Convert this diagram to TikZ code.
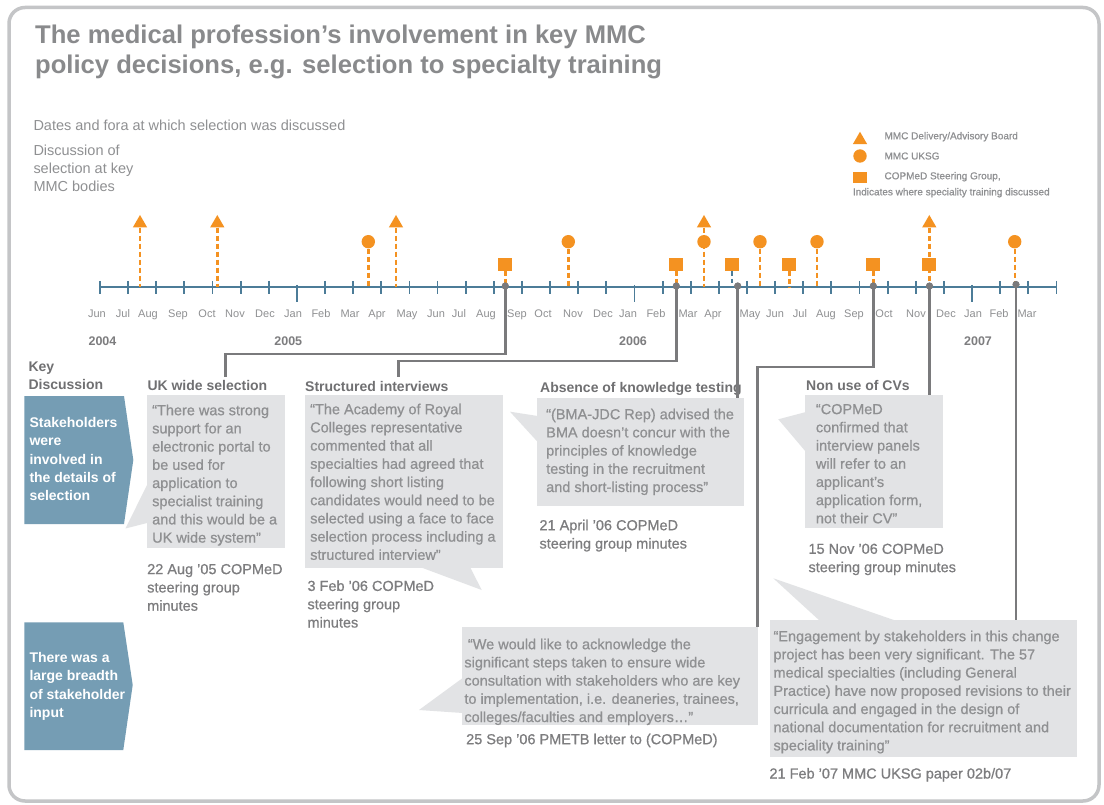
\documentclass[tikz,border=0pt]{standalone}
\usepackage{fontspec}
\setmainfont{Liberation Sans}
\newfontfamily\medfont[UprightFeatures={FakeBold=0.7}]{Liberation Sans}
\usetikzlibrary{positioning,shapes.geometric}

\definecolor{mmcorange}{RGB}{244,146,33}
\definecolor{axisblue}{RGB}{76,124,152}
\definecolor{bannerblue}{RGB}{117,157,180}
\definecolor{quotefill}{RGB}{226,227,229}
\definecolor{quotetext}{RGB}{143,144,146}
\definecolor{headgray}{RGB}{112,112,114}
\definecolor{capgray}{RGB}{125,125,127}
\definecolor{titlegray}{RGB}{137,138,140}
\definecolor{linkgray}{RGB}{122,122,124}
\definecolor{framegray}{RGB}{196,197,199}

\begin{document}
\begin{tikzpicture}[x=1pt,y=-1pt,
		stem/.style={mmcorange,line width=2.4pt,dash pattern=on 5pt off 3pt},
		board/.style={regular polygon,regular polygon sides=3,fill=mmcorange,inner sep=0pt,minimum size=16.5pt},
		uksg/.style={circle,fill=mmcorange,inner sep=0pt,minimum size=13.4pt},
		copmed/.style={rectangle,fill=mmcorange,inner sep=0pt,minimum width=14.3pt,minimum height=12.4pt},
		hub/.style={circle,fill=linkgray,inner sep=0pt,minimum size=7pt},
		link/.style={linkgray,line width=2.6pt},
		month/.style={text=quotetext,font=\fontsize{11}{13}\selectfont,inner sep=0pt,anchor=base},
		year/.style={text=capgray,font=\fontsize{12.5}{14}\selectfont\bfseries,inner sep=0pt,anchor=base},
		qbox/.style={fill=quotefill,inner sep=0pt,anchor=north west},
		qtext/.style={text=quotetext,font=\medfont\fontsize{14.5}{18.2}\selectfont,align=left,inner sep=0pt,anchor=north west},
		head/.style={text=headgray,font=\fontsize{14}{18}\selectfont\bfseries,align=left,inner sep=0pt,anchor=base west},
		source/.style={text=capgray,font=\medfont\fontsize{14.5}{18.3}\selectfont,align=left,inner sep=0pt,anchor=north west},
		banner/.style={text=white,font=\fontsize{14}{18.4}\selectfont\bfseries,align=left,inner sep=0pt,anchor=north west},
		legend/.style={text=quotetext,font=\medfont\fontsize{10}{12}\selectfont,inner sep=0pt,anchor=west}]

\useasboundingbox[fill=white] (0,0) rectangle (1104,805);
\draw[framegray,line width=3.5pt,rounded corners=16pt] (9,7.5) rectangle (1099,801);

% title and side notes
\node[text=titlegray,font=\fontsize{25.6}{30.2}\selectfont\bfseries,align=left,inner sep=0pt,anchor=north west] (title) at (35,24.6)
	{The medical profession’s involvement in key MMC\\policy decisions, e.g. selection to specialty training};
\node[source,text=quotetext,font=\fontsize{14.5}{18.3}\selectfont,anchor=base west] (dates) at (33.3,130.5) {Dates and fora at which selection was discussed};
\node[source,text=quotetext,font=\fontsize{14.5}{18.3}\selectfont] (bodies) at (33.3,144.5) {Discussion of\\selection at key\\MMC bodies};

% legend
\node[board] (lgB) at (860,140) {};
\node[uksg] (lgU) at (860,156) {};
\node[copmed,minimum width=14pt,minimum height=11.6pt] (lgC) at (860,177.5) {};
\node[legend] (lgBt) at (884.3,136.7) {MMC Delivery/Advisory Board};
\node[legend] (lgUt) at (884.3,156) {MMC UKSG};
\node[legend] (lgCt) at (884.3,176.7) {COPMeD Steering Group,};
\node[legend] (lgNote) at (852.7,192.7) {Indicates where speciality training discussed};

% time axis
\coordinate (axisL) at (100,287.3);
\coordinate (axisR) at (1056.5,287.3);
\draw[axisblue,line width=2pt] (axisL) -- (axisR);
\foreach \i in {0,...,34}{
	\pgfmathtruncatemacro\jan{mod(\i+5,12)}
	\ifnum\jan=0
		\draw[axisblue,line width=1.8pt] (100+\i*28.13,285) -- ++(0,17);
	\else
		\draw[axisblue,line width=1.8pt] (100+\i*28.13,281) -- ++(0,13);
	\fi
}
\foreach \m/\x [count=\k] in {Jun/97,Jul/123,Aug/148,Sep/178,Oct/207,Nov/235,Dec/265,Jan/293,Feb/321,Mar/350,Apr/377,May/407,
		Jun/436,Jul/459,Aug/486,Sep/517,Oct/543,Nov/573,Dec/603,Jan/628,Feb/656,Mar/688,Apr/713,May/750,
		Jun/775,Jul/800,Aug/826,Sep/854,Oct/884,Nov/916,Dec/946,Jan/973,Feb/999,Mar/1027}
	\node[month] (mon\k) at (\x,318) {\m};
\node[year] (y2004) at (102.5,345) {2004};
\node[year] (y2005) at (288.3,345) {2005};
\node[year] (y2006) at (633,345) {2006};
\node[year] (y2007) at (978,345) {2007};

% markers
\node[board] (b1) at (140,223.25) {};
\node[board] (b2) at (217.3,223.25) {};
\node[board] (b3) at (396,223.25) {};
\node[board] (b4) at (704,223.25) {};
\node[board] (b5) at (929.3,223.25) {};
\foreach \n in {b1,b2,b3,b4,b5}
	\draw[stem] (\n.south) -- (\n.south |- axisL);
\node[uksg] (u1) at (368.3,241.7) {};
\node[uksg] (u2) at (568.3,241.7) {};
\node[uksg] (u3) at (704,241.7) {};
\node[uksg] (u4) at (760,241.7) {};
\node[uksg] (u5) at (817,241.7) {};
\node[uksg] (u6) at (1014.7,241.7) {};
\foreach \n in {u1,u2,u4,u5,u6}
	\draw[stem] (\n.south) -- (\n.south |- axisL);
\node[copmed] (c1) at (505.3,264.5) {};
\node[copmed] (c2) at (676.3,264.5) {};
\node[copmed] (c3) at (732.3,264.5) {};
\node[copmed] (c4) at (789.3,264.5) {};
\node[copmed] (c5) at (873.3,264.5) {};
\node[copmed] (c6) at (929.3,264.5) {};
\foreach \n in {c1,c2,c4,c5}
	\draw[stem] (\n.south) -- (\n.south |- axisL);
\draw[axisblue,line width=2pt,dash pattern=on 5pt off 3pt] (c3.south) -- ++(0,12);

% key discussion column
\node[head,anchor=north west] (keyhead) at (28.3,361.5) {Key\\Discussion};
\fill[bannerblue] (24.3,396) -- (124,396) -- (133.3,460) -- (124,524) -- (24.3,524) -- cycle;
\node[banner] (ban1) at (29.3,417) {Stakeholders\\were\\involved in\\the details of\\selection};
\fill[bannerblue] (24.3,622.3) -- (123.3,622.3) -- (132.7,685) -- (123.3,750) -- (24.3,750) -- cycle;
\node[banner] (ban2) at (29.3,652.2) {There was a\\large breadth\\of stakeholder\\input};

% quote boxes
\node[qbox,minimum width=138pt,minimum height=153pt] (boxA) at (147,395) {};
\fill[quotefill] (147,485) -- (125.5,528.5) -- (147,523) -- cycle;
\node[qtext] (txtA) at (152,404.5) {“There was strong\\support for an\\electronic portal to\\be used for\\application to\\specialist training\\and this would be a\\UK wide system”};
\node[head] (hUK) at (147.3,390) {UK wide selection};
\node[source] (srcA) at (147,563.8) {22 Aug ’05 COPMeD\\steering group\\minutes};

\node[qbox,minimum width=198pt,minimum height=173pt] (boxB) at (305,395) {};
\fill[quotefill] (420,567) -- (481.7,590) -- (470,567) -- cycle;
\node[qtext] (txtB) at (310,403.5) {“The Academy of Royal\\Colleges representative\\commented that all\\specialties had agreed that\\following short listing\\candidates would need to be\\selected using a face to face\\selection process including a\\structured interview”};
\node[head] (hSI) at (305,391) {Structured interviews};
\node[source] (srcB) at (307.3,580.2) {3 Feb ’06 COPMeD\\steering group\\minutes};

\node[qbox,minimum width=207.3pt,minimum height=108pt] (boxC) at (536.7,398) {};
\fill[quotefill] (537.7,416) -- (510,411.7) -- (537.7,442) -- cycle;
\node[qtext] (txtC) at (546,408.5) {“(BMA-JDC Rep) advised the\\BMA doesn’t concur with the\\principles of knowledge\\testing in the recruitment\\and short-listing process”};
\node[head] (hAK) at (540,392.3) {Absence of knowledge testing};
\node[source] (srcC) at (539.3,519.5) {21 April ’06 COPMeD\\steering group minutes};

\node[qbox,minimum width=138pt,minimum height=133pt] (boxD) at (805,395) {};
\fill[quotefill] (806,412) -- (778.3,419.3) -- (806,452) -- cycle;
\node[qtext] (txtD) at (815.7,403.8) {“COPMeD\\confirmed that\\interview panels\\will refer to an\\applicant’s\\application form,\\not their CV”};
\node[head] (hCV) at (806,390) {Non use of CVs};
\node[source] (srcD) at (808.3,543.5) {15 Nov ’06 COPMeD\\steering group minutes};

\node[qbox,minimum width=296.3pt,minimum height=98.3pt] (boxE) at (461.7,626.7) {};
\fill[quotefill] (462.7,678) -- (419,710) -- (462.7,713) -- cycle;
\node[qtext] (txtE) at (464.2,638.5) {\hspace*{3.5pt}“We would like to acknowledge the\\significant steps taken to ensure wide\\consultation with stakeholders who are key\\to implementation, i.e. deaneries, trainees,\\colleges/faculties and employers…”};
\node[source] (srcE) at (466,733.5) {25 Sep ’06 PMETB letter to (COPMeD)};

\node[qbox,minimum width=307.4pt,minimum height=136.7pt] (boxF) at (769.3,620) {};
\fill[quotefill] (820,621) -- (773.3,578.3) -- (896.7,621) -- cycle;
\node[qtext] (txtF) at (773.3,630.5) {“Engagement by stakeholders in this change\\project has been very significant. The 57\\medical specialties (including General\\Practice) have now proposed revisions to their\\curricula and engaged in the design of\\national documentation for recruitment and\\speciality training”};
\node[source] (srcF) at (769.3,767.8) {21 Feb ’07 MMC UKSG paper 02b/07};

% connectors from the timeline
\coordinate (eUK) at (225.7,377);
\coordinate (eSI) at (398.3,377);
\node[hub] (d1) at (505.3,286) {};
\node[hub] (d2) at (676.3,286) {};
\node[hub] (d3) at (737.7,286) {};
\node[hub] (d4) at (873.3,286) {};
\node[hub] (d5) at (929.5,286) {};
\node[hub] (d6) at (1016,284.5) {};
\draw[link] (d1.center) -- ++(0,68) -| (eUK);
\draw[link] (d2.center) -- ++(0,75) -| (eSI);
\draw[link] (d3.center) -- (d3 |- boxC.north);
\draw[link] (d4.center) -- ++(0,81) -| ([xshift=-1pt]boxE.north east);
\draw[link] (d5.center) -- (d5 |- boxD.north);
\draw[link] (d6.center) -- (d6 |- boxF.north);
\foreach \n in {d1,d2,d3,d4,d5,d6}
	\node[hub] at (\n) {};
\end{tikzpicture}
\end{document}
